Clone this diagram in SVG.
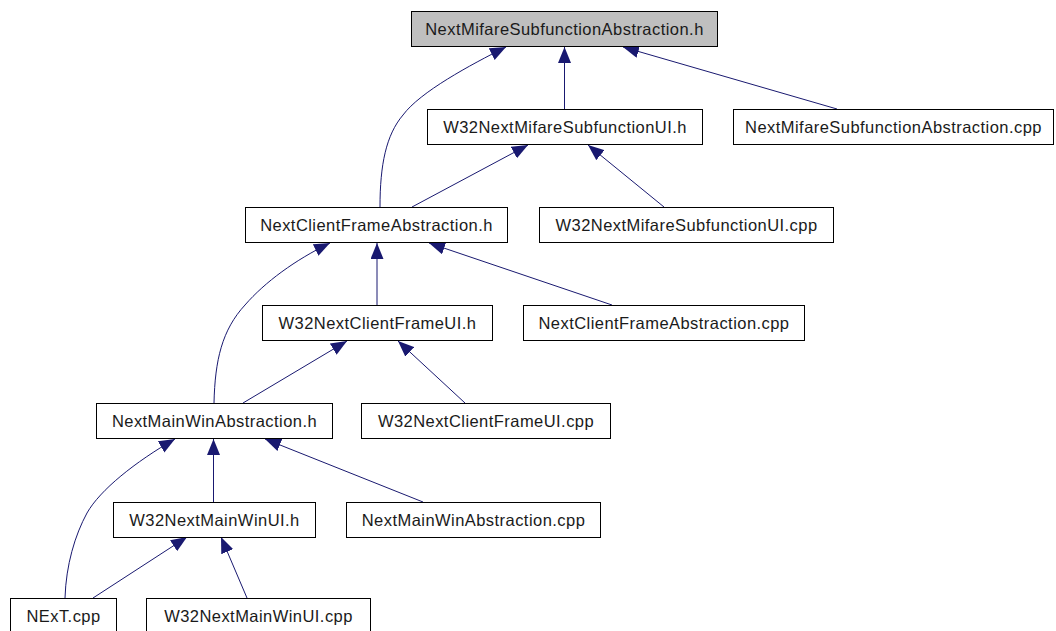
<svg xmlns="http://www.w3.org/2000/svg" width="1056" height="631" viewBox="0 0 1056 631">
  <defs>
    <marker id="arrow" markerUnits="userSpaceOnUse" viewBox="0 0 16 13" refX="16" refY="6.5" markerWidth="16" markerHeight="13" orient="auto">
      <path d="M0,0 L16,6.5 L0,13 z" fill="#191970"/>
    </marker>
    <style>
      .node rect { fill: #ffffff; stroke: #000000; stroke-width: 1; }
      .node.root rect { fill: #bfbfbf; }
      .node text { font-family: "Liberation Sans", Arial, sans-serif; font-size: 16.5px; letter-spacing: 0.45px; fill: #1a1a1a; text-anchor: middle; }
      .edges path { fill: none; stroke: #191970; stroke-width: 1; marker-end: url(#arrow); }
    </style>
  </defs>
  <rect width="1056" height="631" fill="#ffffff"/>

  <!-- include dependency connectors: each arrow points at the included header -->
  <g id="edges" class="edges">
    <path d="M380,207 C380,165 386,135 403,115 C420,92 470,65 506,47"/>
    <path d="M564.5,109 L564.5,47"/>
    <path d="M837,109 L623,47"/>
    <path d="M412,207 L528,145"/>
    <path d="M664,207 L588,145"/>
    <path d="M214,403 C215,360 222,330 245,305 C265,282 295,260 330,243"/>
    <path d="M377,305 L377,243"/>
    <path d="M612,305 L429,243"/>
    <path d="M243,403 L347,341"/>
    <path d="M465,403 L398,341"/>
    <path d="M65,598 C66,565 75,535 87,513 C100,490 135,462 175,439"/>
    <path d="M213.5,502 L213.5,439"/>
    <path d="M423,502 L265,439"/>
    <path d="M93,598 L187,537"/>
    <path d="M247,598 L221,537"/>
  </g>

  <g id="n_NextMifareSubfunctionAbstraction_h" class="node root">
    <rect x="411.5" y="11.5" width="306" height="35"/>
    <text x="564.5" y="35">NextMifareSubfunctionAbstraction.h</text>
  </g>
  <g id="n_W32NextMifareSubfunctionUI_h" class="node">
    <rect x="427.5" y="109.5" width="275" height="35"/>
    <text x="565" y="133">W32NextMifareSubfunctionUI.h</text>
  </g>
  <g id="n_NextMifareSubfunctionAbstraction_cpp" class="node">
    <rect x="733.5" y="109.5" width="320" height="35"/>
    <text x="893.5" y="133">NextMifareSubfunctionAbstraction.cpp</text>
  </g>
  <g id="n_NextClientFrameAbstraction_h" class="node">
    <rect x="245.5" y="207.5" width="262" height="35"/>
    <text x="376.5" y="231">NextClientFrameAbstraction.h</text>
  </g>
  <g id="n_W32NextMifareSubfunctionUI_cpp" class="node">
    <rect x="539.5" y="207.5" width="294" height="35"/>
    <text x="686.5" y="231">W32NextMifareSubfunctionUI.cpp</text>
  </g>
  <g id="n_W32NextClientFrameUI_h" class="node">
    <rect x="262.5" y="305.5" width="230" height="35"/>
    <text x="377.5" y="329">W32NextClientFrameUI.h</text>
  </g>
  <g id="n_NextClientFrameAbstraction_cpp" class="node">
    <rect x="523.5" y="305.5" width="281" height="35"/>
    <text x="664" y="329">NextClientFrameAbstraction.cpp</text>
  </g>
  <g id="n_NextMainWinAbstraction_h" class="node">
    <rect x="96.5" y="403.5" width="236" height="35"/>
    <text x="214.5" y="427">NextMainWinAbstraction.h</text>
  </g>
  <g id="n_W32NextClientFrameUI_cpp" class="node">
    <rect x="361.5" y="403.5" width="249" height="35"/>
    <text x="486" y="427">W32NextClientFrameUI.cpp</text>
  </g>
  <g id="n_W32NextMainWinUI_h" class="node">
    <rect x="113.5" y="502.5" width="202" height="35"/>
    <text x="214.5" y="526">W32NextMainWinUI.h</text>
  </g>
  <g id="n_NextMainWinAbstraction_cpp" class="node">
    <rect x="346.5" y="502.5" width="254" height="35"/>
    <text x="473.5" y="526">NextMainWinAbstraction.cpp</text>
  </g>
  <g id="n_NExT_cpp" class="node">
    <rect x="10.5" y="598.5" width="106" height="35"/>
    <text x="63.5" y="622">NExT.cpp</text>
  </g>
  <g id="n_W32NextMainWinUI_cpp" class="node">
    <rect x="146.5" y="598.5" width="224" height="35"/>
    <text x="258.5" y="622">W32NextMainWinUI.cpp</text>
  </g>
</svg>
